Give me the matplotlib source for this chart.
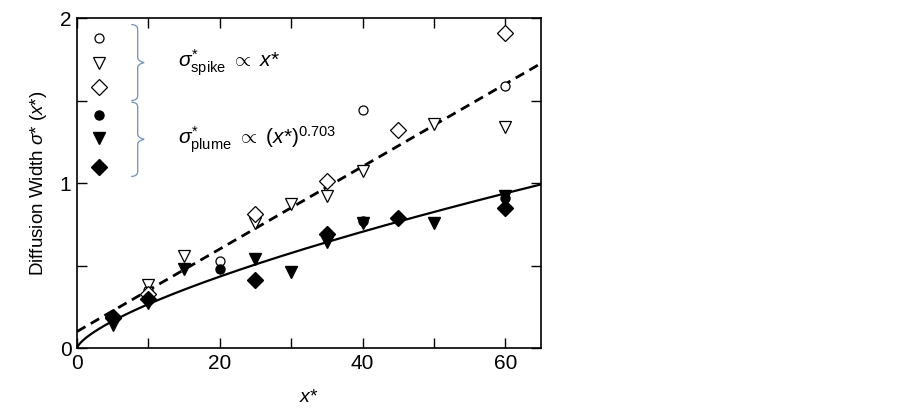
import matplotlib
matplotlib.use("Agg")
import matplotlib.pyplot as plt
import numpy as np
from matplotlib.path import Path
from matplotlib.patches import PathPatch
from matplotlib.ticker import MultipleLocator

plt.rcParams['font.family'] = ['Liberation Sans', 'DejaVu Sans']
plt.rcParams['mathtext.fontset'] = 'custom'
plt.rcParams['mathtext.rm'] = 'Liberation Sans'
plt.rcParams['mathtext.it'] = 'Liberation Sans:italic'

# spike (open markers)
spike_circle_x = [5, 10, 20, 40, 60]
spike_circle_y = [0.17, 0.35, 0.53, 1.44, 1.59]
spike_tri_x = [5, 10, 15, 25, 30, 35, 40, 50, 60]
spike_tri_y = [0.14, 0.38, 0.56, 0.76, 0.87, 0.92, 1.07, 1.36, 1.34]
spike_dia_x = [5, 10, 25, 35, 45, 60]
spike_dia_y = [0.18, 0.33, 0.81, 1.01, 1.32, 1.91]

# plume (filled markers)
plume_circle_x = [5, 10, 20, 40, 60]
plume_circle_y = [0.18, 0.29, 0.48, 0.77, 0.91]
plume_tri_x = [5, 10, 15, 25, 30, 35, 40, 50, 60]
plume_tri_y = [0.15, 0.27, 0.48, 0.54, 0.46, 0.64, 0.76, 0.76, 0.92]
plume_dia_x = [5, 10, 25, 35, 45, 60]
plume_dia_y = [0.19, 0.30, 0.41, 0.69, 0.79, 0.85]

# fits
spike_intercept = 0.10
spike_slope = 0.025
plume_coef = 0.0527
plume_exp = 0.703

fig = plt.figure(figsize=(9.03, 4.15), dpi=100)
ax = fig.add_axes([0.0853, 0.1614, 0.5138, 0.7952])

xs = np.linspace(0, 65, 300)
ax.plot(xs, spike_intercept + spike_slope * xs, color='black', lw=2.0,
        dashes=(3.5, 2.2), zorder=2)
ax.plot(xs, plume_coef * xs ** plume_exp, color='black', lw=1.6, zorder=2)

open_kw = dict(ls='none', mfc='white', mec='black', mew=0.9, zorder=3)
fill_kw = dict(ls='none', color='black', zorder=3)
ax.plot(spike_circle_x, spike_circle_y, marker='o', ms=6.5, **open_kw)
ax.plot(spike_tri_x, spike_tri_y, marker='v', ms=8.5, **open_kw)
ax.plot(spike_dia_x, spike_dia_y, marker='D', ms=8, **open_kw)
ax.plot(plume_circle_x, plume_circle_y, marker='o', ms=6.5, **fill_kw)
ax.plot(plume_tri_x, plume_tri_y, marker='v', ms=8.5, **fill_kw)
ax.plot(plume_dia_x, plume_dia_y, marker='D', ms=8, **fill_kw)

# hand-made legend
legend_x = 3.1
legend_y = [1.88, 1.73, 1.58, 1.41, 1.27, 1.10]
legend_marks = ['o', 'v', 'D', 'o', 'v', 'D']
legend_ms = [6.5, 8.5, 8, 6.5, 8.5, 8]
for i, (yy, mk, ms) in enumerate(zip(legend_y, legend_marks, legend_ms)):
    if i < 3:
        ax.plot([legend_x], [yy], marker=mk, ms=ms, **open_kw)
    else:
        ax.plot([legend_x], [yy], marker=mk, ms=ms, **fill_kw)


def brace(ax, x0, x1, y_top, y_bot):
    xm = (x0 + x1) / 2
    ym = (y_top + y_bot) / 2
    verts = [
        (x0, y_top), (xm, y_top), (xm, y_top - 0.03),
        (xm, ym + 0.03), (xm, ym + 0.01), (x1, ym),
        (xm, ym - 0.01), (xm, ym - 0.03),
        (xm, y_bot + 0.03), (xm, y_bot), (x0, y_bot),
    ]
    codes = [Path.MOVETO, Path.CURVE3, Path.CURVE3,
             Path.LINETO, Path.CURVE3, Path.CURVE3,
             Path.CURVE3, Path.CURVE3,
             Path.LINETO, Path.CURVE3, Path.CURVE3]
    ax.add_patch(PathPatch(Path(verts, codes), fc='none', ec='#6f8fb5', lw=0.9))


brace(ax, 7.6, 9.4, 1.96, 1.50)
brace(ax, 7.6, 9.4, 1.49, 1.04)

ax.text(14.2, 1.73, r'$\sigma^{*}_{\mathrm{spike}}$ $\propto$ $x$*', fontsize=15,
        va='center', ha='left')
ax.text(14.2, 1.26, r'$\sigma^{*}_{\mathrm{plume}}$ $\propto$ ($x$*)$^{0.703}$', fontsize=15,
        va='center', ha='left')

ax.set_xlim(0, 65)
ax.set_ylim(0, 2)
ax.xaxis.set_major_locator(MultipleLocator(20))
ax.xaxis.set_minor_locator(MultipleLocator(10))
ax.yaxis.set_major_locator(MultipleLocator(1))
ax.yaxis.set_minor_locator(MultipleLocator(0.5))
ax.tick_params(which='both', direction='in', top=True, right=True, labelsize=15,
               pad=4)
ax.tick_params(which='major', length=7, width=1)
ax.tick_params(which='minor', length=7, width=1)
for sp in ax.spines.values():
    sp.set_linewidth(1.2)

ax.set_xlabel(r'$x$*', fontsize=14, labelpad=12)
ax.set_ylabel(r'Diffusion Width $\sigma$* ($x$*)', fontsize=13.5, labelpad=8)

fig.savefig('out.png', dpi=100)
